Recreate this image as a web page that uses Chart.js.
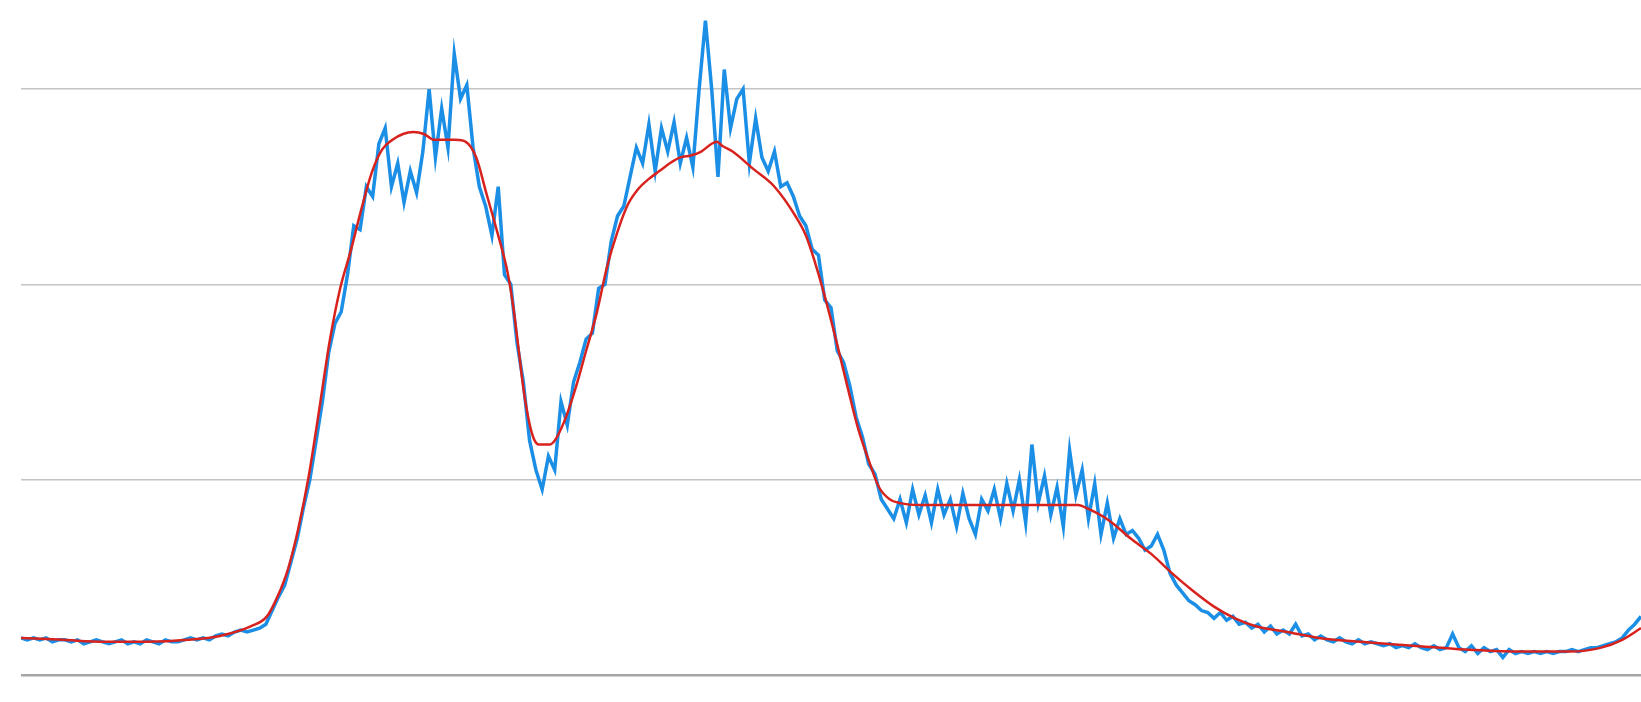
<!DOCTYPE html>
<html>
<head>
<meta charset="utf-8">
<script src="https://cdn.jsdelivr.net/npm/chart.js@4.4.0/dist/chart.umd.min.js"></script>
<style>
  html, body { margin: 0; padding: 0; background: #fff; }
  #wrap { width: 1641px; height: 702px; }
</style>
</head>
<body>
<div id="wrap"><canvas id="signal"></canvas></div>
<script>
// raw trace, one reading every 6 samples
const rawStep = 6;
const rawValues = [
  19, 18, 19, 18, 19, 17, 18, 18, 17, 18, 16, 17, 18, 17, 16, 17, 18, 16, 17, 16,
  18, 17, 16, 18, 17, 17, 18, 19, 18, 19, 18, 20, 21, 20, 22, 23, 22,
  23, 24, 26, 33, 40, 46, 58, 70, 86, 100, 120, 140, 165, 180, 186, 205, 230, 228, 250, 245,
  272, 280, 250, 262, 242, 258, 247, 268, 300, 265, 290, 270, 318, 295, 302, 270, 250, 240, 225, 250, 205, 200,
  170, 150, 120, 105, 95, 112, 105, 140, 128, 150, 160, 172, 175, 198, 200, 222, 235, 240, 255,
  270, 262, 282, 258, 280, 268, 283, 262, 275, 260, 300, 335, 300, 255, 310, 280, 295, 300, 262, 285,
  265, 258, 268, 250, 252, 245, 235,
  230, 218, 215, 192, 188, 166, 160, 148, 132, 122, 108, 103, 90, 85, 80,
  90, 78, 95, 82, 92, 78, 95, 82, 90, 76, 93, 80, 72, 90, 84, 95, 80, 98, 84, 100,
  78, 118, 88, 102, 82, 96, 76, 115, 92, 105,
  80, 98, 72, 88, 70, 80, 72, 74, 70, 64, 66, 72, 64, 52, 46, 42, 38, 36, 33, 32,
  29, 32, 28, 30, 26, 27, 24, 26, 22,
  25, 21, 23, 21, 26, 20, 21, 18, 20, 18, 17, 19, 17, 16, 18, 16, 17, 16, 15, 16,
  14, 15, 14, 16, 14, 13, 15, 13, 14, 21, 14, 12, 15, 11, 14, 12, 13, 9, 13, 11,
  12, 11, 12, 11, 12, 11, 12, 12, 13, 12, 13, 14, 14, 15, 16, 17, 19, 23, 26, 30
];

// smoothed trend, sample position and value
const smoothPos = [
  0, 40, 80, 120, 160, 190, 220, 235, 245, 255, 265, 275, 285, 295, 305, 315, 325, 335, 345, 355,
  365, 375, 385, 395, 405, 415, 425, 435, 445, 455, 465, 470, 475, 480, 485, 490, 495, 500, 505, 510,
  520, 530, 540, 550, 560, 570, 580, 590, 600, 610, 620, 630, 640, 650, 660, 665, 670, 680, 700, 720,
  740, 750, 760, 770, 780, 790, 800, 810, 820, 830, 840, 860, 880, 930, 980, 1000, 1010, 1020, 1040, 1060,
  1080, 1100, 1120, 1140, 1160, 1180, 1210, 1240, 1280, 1330, 1380, 1430, 1480, 1510, 1530, 1548
];
const smoothValues = [
  19, 18, 17, 17, 18, 20, 25, 30, 40, 54, 75, 102, 136, 171, 198, 217, 238, 257, 269, 274,
  277, 278, 277, 274, 274, 274, 273, 265, 246, 227, 206, 190, 169, 147, 131, 121, 118, 118, 118, 120,
  131, 147, 166, 185, 209, 227, 241, 249, 254, 258, 262, 265, 266, 268, 272, 273, 271, 268, 259, 250,
  235, 225, 209, 190, 169, 147, 126, 110, 96, 90, 88, 87, 87, 87, 87, 87, 87, 85, 79, 70,
  62, 52, 43, 35, 29, 25, 22, 19, 17, 15, 13, 12, 12, 14, 18, 24
];

const gridValues = [0, 100, 200, 300];
const yTop = 345.6;
const xEnd = 1548;

const rawPoints = rawValues.map((v, i) => ({ x: i * rawStep, y: v }));
const smoothPoints = smoothPos.map((p, i) => ({ x: p, y: smoothValues[i] }));

new Chart(document.getElementById('signal'), {
  type: 'line',
  data: {
    datasets: [
      {
        label: 'smoothed',
        data: smoothPoints,
        borderColor: '#d8221e',
        borderWidth: 2.5,
        pointRadius: 0,
        cubicInterpolationMode: 'monotone',
        order: 0,
      },
      {
        label: 'raw',
        data: rawPoints,
        borderColor: '#1b8ee6',
        borderWidth: 3.5,
        pointRadius: 0,
        tension: 0,
        order: 1,
      },
    ],
  },
  options: {
    responsive: true,
    maintainAspectRatio: false,
    animation: false,
    layout: { padding: { left: 21, right: 0, top: 0, bottom: 27 } },
    plugins: {
      legend: { display: false },
      tooltip: { enabled: false },
    },
    scales: {
      x: {
        type: 'linear',
        min: 0,
        max: xEnd,
        display: false,
      },
      y: {
        min: 0,
        max: yTop,
        afterBuildTicks: (scale) => {
          scale.ticks = gridValues.map((v) => ({ value: v }));
        },
        ticks: { display: false },
        border: { display: false },
        grid: {
          drawTicks: false,
          tickLength: 0,
          color: (ctx) => (ctx.tick && ctx.tick.value === 0 ? '#a6a6a6' : '#c4c4c4'),
          lineWidth: (ctx) => (ctx.tick && ctx.tick.value === 0 ? 2.5 : 1.5),
        },
      },
    },
  },
});
</script>
</body>
</html>
